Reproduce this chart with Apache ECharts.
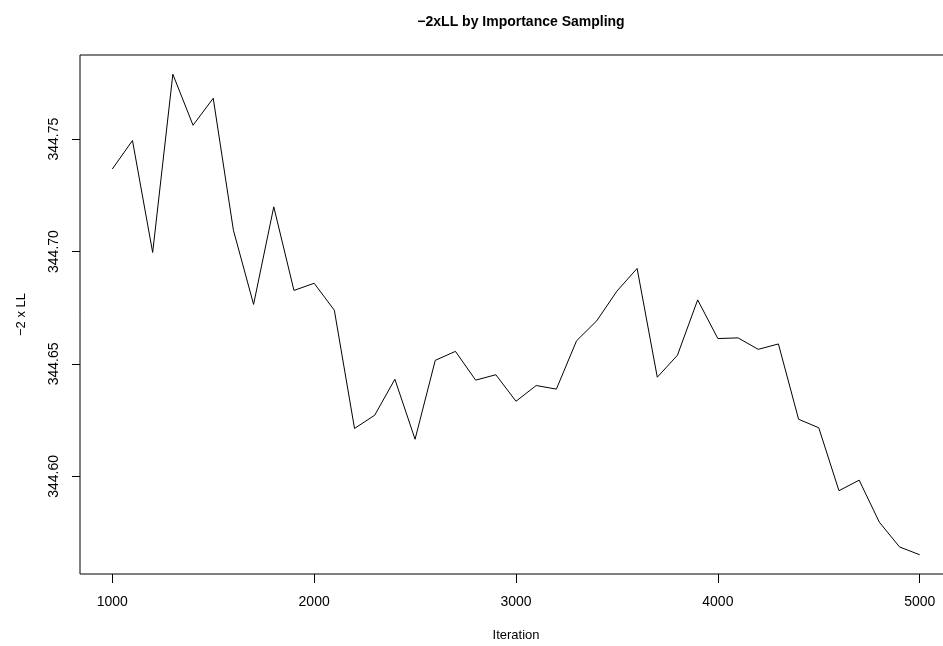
<!DOCTYPE html>
<html>
<head>
<meta charset="utf-8">
<script src="https://cdn.jsdelivr.net/npm/echarts@6/dist/echarts.min.js"></script>
<style>
html,body{margin:0;padding:0;background:#fff;}
#chart{width:943px;height:646px;}
</style>
</head>
<body>
<div id="chart"></div>
<script>
// Data
const iterations = [1000,1100,1200,1300,1400,1500,1600,1700,1800,1900,2000,2100,2200,2300,2400,2500,2600,2700,2800,2900,3000,3100,3200,3300,3400,3500,3600,3700,3800,3900,4000,4100,4200,4300,4400,4500,4600,4700,4800,4900,5000];
const minus2LL = [344.7367,344.7494,344.6996,344.7789,344.7562,344.7682,344.7095,344.6765,344.7199,344.6827,344.6859,344.6739,344.6213,344.6272,344.6432,344.6165,344.6516,344.6556,344.6428,344.6452,344.6334,344.6404,344.6388,344.6603,344.6692,344.6824,344.6925,344.6441,344.6539,344.6785,344.6613,344.6616,344.6565,344.6589,344.6254,344.6216,344.5936,344.5983,344.5796,344.5686,344.5651];
const xTicks = [1000,2000,3000,4000,5000];
const yTicks = [344.60,344.65,344.70,344.75];
const titleText = '\u22122xLL by Importance Sampling';
const xTitle = 'Iteration';
const yTitle = '\u22122 x LL';

// R-style 4% axis extension
const xr = [Math.min(...iterations), Math.max(...iterations)];
const yr = [Math.min(...minus2LL), Math.max(...minus2LL)];
const xpad = (xr[1]-xr[0])*0.04, ypad = (yr[1]-yr[0])*0.04;

const FONT = 'Liberation Sans, Arial, Helvetica, sans-serif';
const chart = echarts.init(document.getElementById('chart'), null, {renderer:'canvas'});
chart.setOption({
  backgroundColor:'#ffffff',
  animation:false,
  title:{
    text:titleText, left:516, top:10, textAlign:'center',
    textStyle:{fontFamily:FONT, fontSize:14, fontWeight:'bold', color:'#000'}
  },
  grid:{left:80, top:55, width:872, height:519, containLabel:false, outerBoundsMode:'none',
    show:true, borderColor:'#000', borderWidth:1, backgroundColor:'transparent'},
  xAxis:{
    type:'value', min:xr[0]-xpad, max:xr[1]+xpad,
    name:xTitle, nameLocation:'middle', nameGap:55,
    nameTextStyle:{fontFamily:FONT, fontSize:13, color:'#000'},
    axisLine:{show:false},
    axisTick:{show:true, inside:false, length:9, customValues:xTicks, lineStyle:{color:'#000', width:1}},
    axisLabel:{customValues:xTicks, margin:21, fontFamily:FONT, fontSize:14, color:'#000',
      formatter:(v)=>String(Math.round(v))},
    splitLine:{show:false}
  },
  yAxis:{
    type:'value', min:yr[0]-ypad, max:yr[1]+ypad,
    name:yTitle, nameLocation:'middle', nameGap:52, nameRotate:90,
    nameTextStyle:{fontFamily:FONT, fontSize:13, color:'#000'},
    axisLine:{show:false},
    axisTick:{show:true, inside:false, length:8, customValues:yTicks, lineStyle:{color:'#000', width:1}},
    axisLabel:{customValues:yTicks, rotate:90, margin:19, fontFamily:FONT, fontSize:14, color:'#000',
      formatter:(v)=>v.toFixed(2)},
    splitLine:{show:false}
  },
  series:[{
    type:'line', data:iterations.map((x,i)=>[x, minus2LL[i]]),
    showSymbol:false, symbol:'none',
    lineStyle:{color:'#000', width:1}, itemStyle:{color:'#000'}
  }]
});
</script>
</body>
</html>
